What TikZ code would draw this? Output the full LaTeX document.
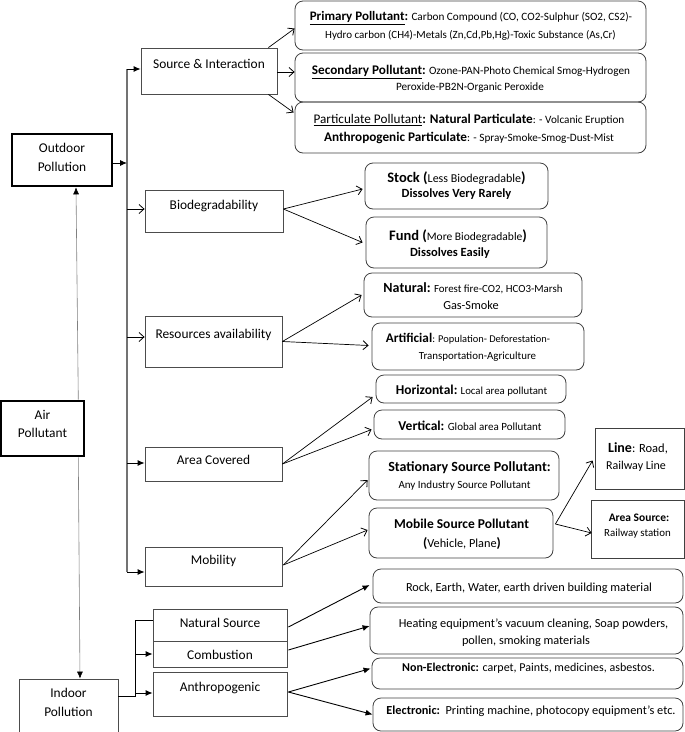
\documentclass[tikz,border=0pt]{standalone}
\usepackage{fontspec}
\setmainfont{Carlito}
\usetikzlibrary{arrows.meta,fit,calc}
\newcommand\fs[1]{\fontsize{#1}{#1}\selectfont}
\begin{document}
\begin{tikzpicture}[x=1pt,y=-1pt,
  catbox/.style={draw=black!70,line width=0.8pt,inner sep=0pt},
  mainbox/.style={draw=black,line width=2.6pt,inner sep=0pt},
  rbox/.style={draw=black!75,line width=0.8pt,rounded corners=8pt,inner sep=0pt},
  sbox/.style={draw=black!75,line width=0.8pt,inner sep=0pt},
  t/.style={inner sep=0pt,text height=0.7em,text depth=0.2em,yshift=-2.2pt},
  cat/.style={t,font=\fs{13.4}},
  opn/.style={draw=black,line width=0.7pt,-{Straight Barb[length=5pt,width=9pt,line width=0.8pt]}},
  fil/.style={draw=black,line width=0.9pt,-{Latex[length=7pt,width=6pt]}},
  bus/.style={draw=black!55,line width=2pt},
  thin/.style={draw=black!50,line width=0.6pt,-{Latex[length=7pt,width=6pt,black]}}
]
\useasboundingbox (0,0) rectangle (685,732);

% main boxes
\node[mainbox,fit={(12,134) (112,186)}] (out) {};
\node[cat] (out1) at (62,148) {Outdoor};
\node[cat] (out2) at (62,167) {Pollution};
\node[mainbox,fit={(1,401) (84,456)}] (air) {};
\node[cat] (air1) at (42.5,415) {Air};
\node[cat] (air2) at (42.5,433) {Pollutant};
\node[catbox,fit={(19,679) (118,732)}] (ind) {};
\node[cat] (ind1) at (68.5,693) {Indoor};
\node[cat] (ind2) at (68.5,712) {Pollution};

% category boxes
\node[catbox,fit={(141,48) (277,94)}] (si) {};
\node[cat] (sit) at (209,64) {Source \& Interaction};
\node[catbox,fit={(145,190) (283,232)}] (bio) {};
\node[cat] (biot) at (214,205) {Biodegradability};
\node[catbox,fit={(145,316) (282,367)}] (res) {};
\node[cat] (rest) at (213.5,334) {Resources availability};
\node[catbox,fit={(145,447) (282,481)}] (area) {};
\node[cat] (areat) at (213.5,460) {Area Covered};
\node[catbox,fit={(145,547) (282,586)}] (mob) {};
\node[cat] (mobt) at (213.5,560) {Mobility};
\node[catbox,fit={(153,609) (287,641)}] (ns) {};
\node[cat] (nst) at (220,623) {Natural Source};
\node[catbox,fit={(153,641) (287,667)}] (comb) {};
\node[cat] (combt) at (220,655) {Combustion};
\node[catbox,fit={(153,672) (287,716)}] (anth) {};
\node[cat] (antht) at (220,687) {Anthropogenic};

% outdoor right boxes
\node[rbox,fit={(295,1) (646,50)}] (prim) {};
\node[t,font=\fs{11.2}] (prim1) at (471,16) {{\fs{13}\bfseries\underline{Primary Pollutant}:} Carbon Compound (CO, CO2-Sulphur (SO2, CS2)-};
\node[t,font=\fs{11}] (prim2) at (470.5,34) {Hydro carbon (CH4)-Metals (Zn,Cd,Pb,Hg)-Toxic Substance (As,Cr)};
\node[rbox,fit={(295,53) (646,102)}] (sec) {};
\node[t,font=\fs{11.2}] (sec1) at (471,70) {{\fs{13.2}\bfseries\underline{Secondary Pollutant}:} Ozone-PAN-Photo Chemical Smog-Hydrogen};
\node[t,font=\fs{11.2}] (sec2) at (470,86) {Peroxide-PB2N-Organic Peroxide};
\node[rbox,fit={(295,102) (646,153)}] (part) {};
\node[t,font=\fs{11.2}] (part1) at (469,119) {{\fs{13.2}\underline{Particulate Pollutant}}{\fs{13.2}\bfseries: Natural Particulate}: - Volcanic Eruption};
\node[t,font=\fs{11.2}] (part2) at (469,137) {{\fs{13.2}\bfseries Anthropogenic Particulate}: - Spray-Smoke-Smog-Dust-Mist};

\node[rbox,fit={(365,163) (548,209)}] (stock) {};
\node[t,font=\fs{12}] (stock1) at (456.5,178) {{\fs{14.5}\bfseries Stock (}Less Biodegradable{\fs{14.5}\bfseries)}};
\node[t,font=\fs{12.5}\bfseries] (stock2) at (456.5,193) {Dissolves Very Rarely};
\node[rbox,fit={(366,217) (547,268)}] (fund) {};
\node[t,font=\fs{11.5}] (fund1) at (458,236) {{\fs{14.5}\bfseries Fund (}More Biodegradable{\fs{14.5}\bfseries)}};
\node[t,font=\fs{12.5}\bfseries] (fund2) at (450,252) {Dissolves Easily};
\node[rbox,fit={(364,273) (582,317)}] (nat) {};
\node[t,font=\fs{10.9}] (nat1) at (473,288) {{\fs{14}\bfseries Natural:} Forest fire-CO2, HCO3-Marsh};
\node[t,font=\fs{12.3}] (nat2) at (471,305) {Gas-Smoke};
\node[rbox,fit={(372,323) (584,370)}] (art) {};
\node[t,font=\fs{10.4}] (art1) at (468,338) {{\fs{13.2}\bfseries Artificial}: Population- Deforestation-};
\node[t,font=\fs{10.9}] (art2) at (477.5,355) {Transportation-Agriculture};

\node[rbox,fit={(376,375) (566,403)}] (hor) {};
\node[t,font=\fs{10.8}] (hort) at (471.5,390) {{\fs{13.5}\bfseries Horizontal:} Local area pollutant};
\node[rbox,fit={(374,410) (565,439)}] (ver) {};
\node[t,font=\fs{11}] (vert) at (470,426) {{\fs{13.5}\bfseries Vertical:} Global area Pollutant};
\node[rbox,fit={(369,451) (559,500)}] (stat) {};
\node[t,font=\fs{14}\bfseries] (stat1) at (469.5,467) {Stationary Source Pollutant:};
\node[t,font=\fs{11}] (stat2) at (464.5,484) {Any Industry Source Pollutant};
\node[rbox,fit={(369,508) (553,558)}] (mobs) {};
\node[t,font=\fs{13.5}\bfseries] (mobs1) at (461.5,524) {Mobile Source Pollutant};
\node[t,font=\fs{12.3}] (mobs2) at (462,543) {{\fs{13.5}\bfseries(}Vehicle, Plane{\fs{13.5}\bfseries)}};
\node[sbox,fit={(595,428) (684,489)}] (line) {};
\node[t,font=\fs{12.5}] (line1) at (638,448) {{\fs{14}\bfseries Line}: Road,};
\node[t,font=\fs{12}] (line2) at (636,465) {Railway Line};
\node[sbox,fit={(591,500) (684,558)}] (asrc) {};
\node[t,font=\fs{11.5}\bfseries] (asrc1) at (639,517) {Area Source:};
\node[t,font=\fs{10.9}] (asrc2) at (637.5,532) {Railway station};

% indoor right boxes
\node[rbox,fit={(373,569) (683,603)}] (rock) {};
\node[t,font=\fs{12.3}] (rockt) at (529,587) {Rock, Earth, Water, earth driven building material};
\node[rbox,fit={(370,607) (683,654)}] (heat) {};
\node[t,font=\fs{12.3}] (heat1) at (533.5,623) {Heating equipment’s vacuum cleaning, Soap powders,};
\node[t,font=\fs{12.3}] (heat2) at (526,640) {pollen, smoking materials};
\node[rbox,fit={(372,658) (683,689)}] (nonel) {};
\node[t,font=\fs{12}] (nonelt) at (528.5,667) {{\bfseries Non-Electronic:} carpet, Paints, medicines, asbestos.};
\node[rbox,fit={(373,698) (683,731)}] (elec) {};
\node[t,font=\fs{12.3}] (elect) at (531,710) {{\bfseries Electronic:}\ \ Printing machine, photocopy equipment’s etc.};

% bus
\coordinate (bt) at (127,69);
\coordinate (bb) at (127,572);
\draw[bus] (bt) -- (bb);
\draw[fil] ($(out.east)+(0,3)$) -- ($(bt |- out.east)+(0,3)$);
\draw[fil] ($(bt |- si.west)+(0,-2)$) -- ($(si.west)+(0,-2)$);
\draw[opn] ($(bt |- bio.west)+(0,-2)$) -- ($(bio.west)+(0,-2)$);
\draw[opn] ($(bt |- res.west)+(0,-4.5)$) -- ($(res.west)+(0,-4.5)$);
\draw[fil] ($(bt |- area.west)+(0,-1)$) -- ($(area.west)+(0,-1)$);
\draw[fil] ($(bt |- mob.west)+(0,5.5)$) -- ($(mob.west)+(0,5.5)$);

% air pollutant links
\draw[thin] ($(air.north east)+(-7,0)$) -- ($(out.south)+(14,0)$);
\draw[thin] ($(air.south east)+(-7,0)$) -- ($(ind.north)+(11.5,0)$);

% indoor links
\coordinate (ij) at (135,696);
\draw[line width=0.9pt] ($(ind.east)+(0,-9.5)$) -- (ij) -- ($(ij |- ns.west)+(0,-5)$) -- ($(ns.west)+(0,-5)$);
\draw[fil] (ij |- comb.west) -- (comb.west);
\draw[fil] ($(ij |- anth.west)+(0,-1)$) -- ($(anth.west)+(0,-1)$);

% source & interaction
\draw[opn] ($(si.north east)+(-9,0)$) -- ($(prim.west)+(0,3)$);
\draw[opn] ($(si.east)+(0,1)$) -- ($(sec.west |- si.east)+(0,1)$);
\draw[opn] ($(si.south east)+(-9,0)$) -- ($(part.west)+(-1,-15)$);
% biodegradability
\draw[opn] ($(bio.east)+(0,-2)$) -- ($(stock.west)+(-2,3)$);
\draw[opn] ($(bio.east)+(0,-2)$) -- ($(fund.west)+(-3,0)$);
% resources
\draw[opn] (res.east) -- ($(nat.west)+(-2,0)$);
\draw[opn] (res.east) -- ($(art.west)+(-3,-1)$);
% area covered
\draw[opn] (area.east) -- ($(hor.west)+(-3,8)$);
\draw[opn] (area.east) -- ($(ver.west)+(-2,5)$);
% mobility
\draw[opn] ($(mob.east)+(1,-1.5)$) -- ($(stat.west)+(-1,4.5)$);
\draw[opn] ($(mob.east)+(1,-1.5)$) -- ($(mobs.west)+(-1,-3)$);
% mobile source
\draw[opn] ($(mobs.east)+(2,-9)$) -- ($(line.west)+(-2,2)$);
\draw[opn] ($(mobs.east)+(2,-9)$) -- ($(asrc.west)+(1,4)$);
% indoor right
\draw[fil] ($(ns.east)+(1,2)$) -- ($(rock.west)+(-3,-1)$);
\draw[fil] ($(comb.east)+(1,-4)$) -- ($(heat.west)+(0,-4.5)$);
\draw[fil] ($(anth.east)+(1,-2)$) -- ($(nonel.west)+(-1,-5)$);
\draw[fil] ($(anth.east)+(1,-2)$) -- ($(elec.west)+(0,0)$);
\end{tikzpicture}
\end{document}
